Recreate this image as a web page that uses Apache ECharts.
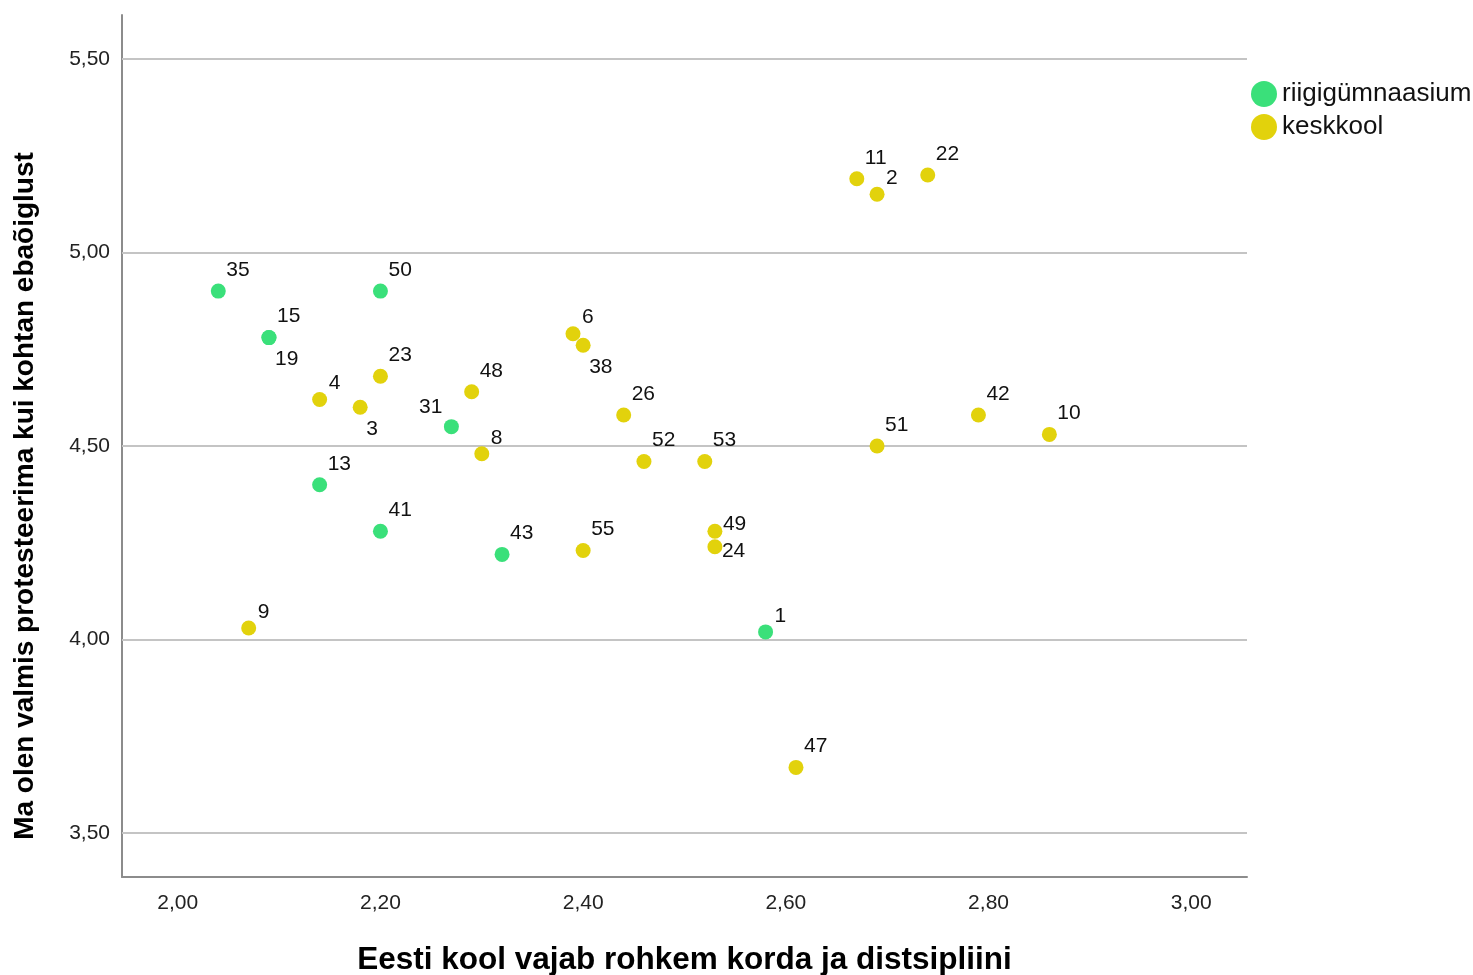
<!DOCTYPE html>
<html>
<head>
<meta charset="utf-8">
<script src="https://cdn.jsdelivr.net/npm/echarts@6/dist/echarts.min.js"></script>
<style>
html,body{margin:0;padding:0;background:#fff;}
#chart{width:1473px;height:975px;}
</style>
</head>
<body>
<div id="chart"></div>
<script>
// ---- data ----
const seriesNames = ['riigigümnaasium', 'keskkool'];

const greenIds = [35, 50, 15, 19, 31, 13, 41, 43, 1];
const greenX   = [2.04, 2.20, 2.09, 2.09, 2.27, 2.14, 2.20, 2.32, 2.58];
const greenY   = [4.90, 4.90, 4.78, 4.78, 4.55, 4.40, 4.28, 4.22, 4.02];

const yellowIds = [11, 2, 22, 6, 38, 23, 48, 4, 3, 26, 8, 52, 53, 51, 42, 10, 49, 24, 55, 9, 47];
const yellowX   = [2.67, 2.69, 2.74, 2.39, 2.40, 2.20, 2.29, 2.14, 2.18, 2.44, 2.30, 2.46, 2.52, 2.69, 2.79, 2.86, 2.53, 2.53, 2.40, 2.07, 2.61];
const yellowY   = [5.19, 5.15, 5.20, 4.79, 4.76, 4.68, 4.64, 4.62, 4.60, 4.58, 4.48, 4.46, 4.46, 4.50, 4.58, 4.53, 4.28, 4.24, 4.23, 4.03, 3.67];

const xTicks = [2.0, 2.2, 2.4, 2.6, 2.8, 3.0];
const yTicks = [3.5, 4.0, 4.5, 5.0, 5.5];

const xTitle = 'Eesti kool vajab rohkem korda ja distsipliini';
const yTitle = 'Ma olen valmis protesteerima kui kohtan ebaõiglust';

// ---- label placement (style) ----
const labelPlacement = {19:'br', 3:'br', 38:'br', 31:'ul', 49:'r', 24:'rb', 2:'ur2', 4:'ur2', 6:'ur2', 8:'ur2', 9:'ur2', 1:'ur2'};
const placementStyle = {
  ur:  {align:'left',  offset:[8,-21]},
  ur2: {align:'left',  offset:[9,-16]},
  br:  {align:'left',  offset:[6,22]},
  ul:  {align:'right', offset:[-9,-19]},
  r:   {align:'left',  offset:[8,-7]},
  rb:  {align:'left',  offset:[7,5]}
};

const FONT = '"Liberation Sans", Arial, sans-serif';
const fmt = v => v.toFixed(2).replace('.', ',');

function buildData(ids, xs, ys) {
  return ids.map((id, i) => {
    const p = placementStyle[labelPlacement[id] || 'ur'];
    return {
      value: [xs[i], ys[i], id],
      label: {show: true, position: 'inside', align: p.align, verticalAlign: 'middle', offset: p.offset}
    };
  });
}

const chart = echarts.init(document.getElementById('chart'), null, {renderer: 'canvas'});

const labelCommon = {
  show: true,
  formatter: p => String(p.value[2]),
  color: '#111',
  fontSize: 21,
  fontFamily: FONT
};

chart.setOption({
  animation: false,
  backgroundColor: '#ffffff',
  grid: {left: 122, top: 15, right: 226, bottom: 98, containLabel: false, outerBoundsMode: 'none'},
  legend: {
    orient: 'vertical',
    left: 1246,
    top: 76,
    icon: 'circle',
    itemWidth: 26,
    itemHeight: 26,
    itemGap: 7,
    textStyle: {fontSize: 26, fontFamily: FONT, color: '#111'},
    data: seriesNames
  },
  xAxis: {
    type: 'value',
    min: 1.945,
    max: 3.055,
    name: xTitle,
    nameLocation: 'middle',
    nameGap: 67,
    nameTextStyle: {fontSize: 31.5, fontWeight: 'bold', fontFamily: FONT, color: '#000'},
    axisLine: {show: true, onZero: false, lineStyle: {color: '#8c8c8c', width: 2}},
    axisTick: {show: false},
    splitLine: {show: false},
    axisLabel: {customValues: xTicks, formatter: fmt, fontSize: 21, fontFamily: FONT, color: '#222', margin: 16}
  },
  yAxis: {
    type: 'value',
    min: 3.387,
    max: 5.613,
    name: yTitle,
    nameLocation: 'middle',
    nameGap: 83,
    nameTextStyle: {fontSize: 28, fontWeight: 'bold', fontFamily: FONT, color: '#000', padding: [0, 100, 0, 0]},
    axisLine: {show: true, onZero: false, lineStyle: {color: '#8c8c8c', width: 2}},
    axisTick: {show: false},
    splitLine: {show: false},
    axisLabel: {customValues: yTicks, formatter: fmt, fontSize: 21, fontFamily: FONT, color: '#222', margin: 12}
  },
  series: [
    {
      name: seriesNames[0],
      type: 'scatter',
      symbolSize: 15,
      itemStyle: {color: '#3ae07a', opacity: 1},
      label: labelCommon,
      data: buildData(greenIds, greenX, greenY),
      z: 3,
      markLine: {
        silent: true,
        symbol: ['none', 'none'],
        label: {show: false},
        lineStyle: {color: '#c4c4c4', width: 2, type: 'solid'},
        data: yTicks.map(v => ({yAxis: v})),
        z: 1
      }
    },
    {
      name: seriesNames[1],
      type: 'scatter',
      symbolSize: 15,
      itemStyle: {color: '#e2d20c', opacity: 1},
      label: labelCommon,
      data: buildData(yellowIds, yellowX, yellowY),
      z: 3
    }
  ]
});
</script>
</body>
</html>
